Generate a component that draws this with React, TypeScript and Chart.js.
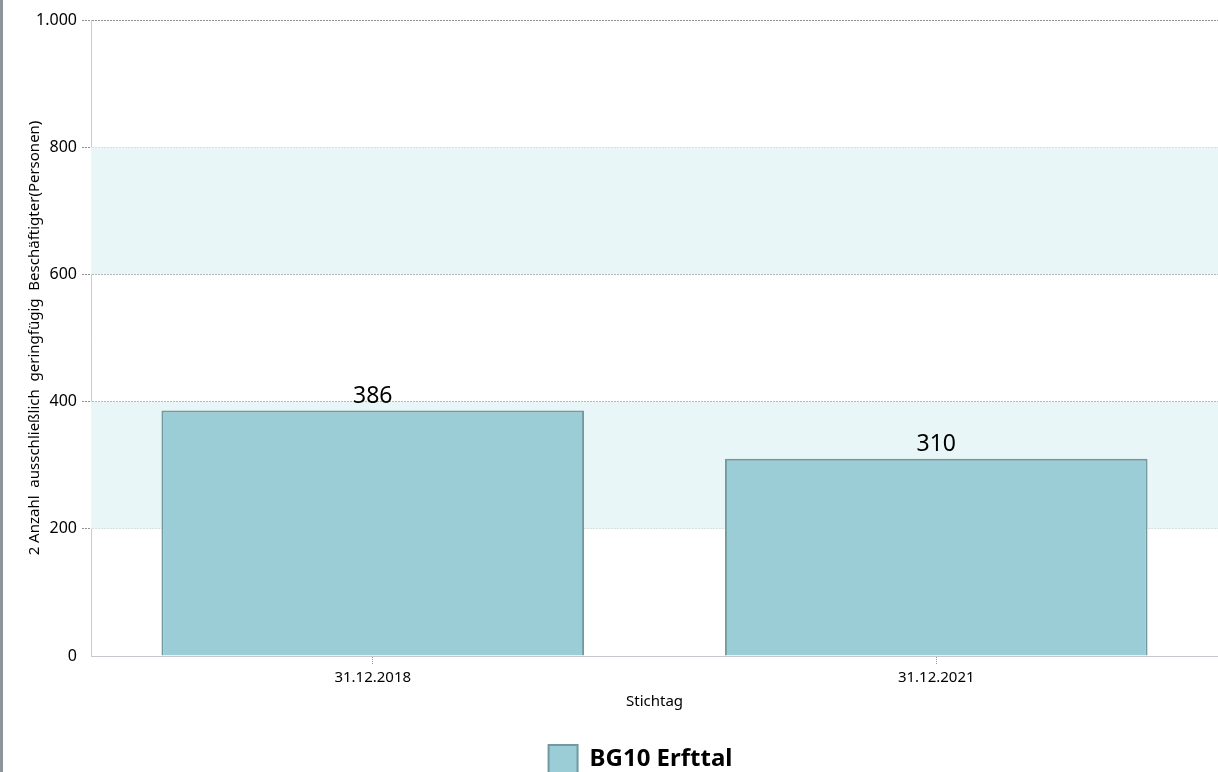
import React, { useEffect, useRef } from "react";
import { Chart, registerables } from "chart.js";

Chart.register(...registerables);

const categories = ["31.12.2018", "31.12.2021"];
const seriesLabel = "BG10 Erfttal";
const seriesValues = [386, 310];
const yTicks = [0, 200, 400, 600, 800, 1000];
const bands: [number, number][] = [
  [200, 400],
  [600, 800],
];
const xTitle = "Stichtag";
const yTitle = "2 Anzahl  ausschließlich  geringfügig  Beschäftigter(Personen)";

const FONT = "'Noto Sans', 'Open Sans', sans-serif";

function fmt(v: number): string {
  return String(v).replace(/\B(?=(\d{3})+(?!\d))/g, ".");
}

const bandPlugin = {
  id: "bands",
  beforeDatasetsDraw(chart: any) {
    const { ctx, chartArea, scales } = chart;
    const y = scales.y;
    ctx.save();
    ctx.fillStyle = "#e8f6f7";
    for (const [a, b] of bands) {
      const top = y.getPixelForValue(b);
      const bottom = y.getPixelForValue(a);
      ctx.fillRect(chartArea.left, top, chartArea.right - chartArea.left, bottom - top);
    }
    ctx.restore();
  },
};

const labelPlugin = {
  id: "valueLabels",
  afterDatasetsDraw(chart: any) {
    const { ctx } = chart;
    const meta = chart.getDatasetMeta(0);
    ctx.save();
    ctx.font = `23px ${FONT}`;
    ctx.fillStyle = "#000";
    ctx.textAlign = "center";
    ctx.textBaseline = "bottom";
    meta.data.forEach((el: any, i: number) => {
      ctx.fillText(String(seriesValues[i]), el.x, el.y - 3);
    });
    ctx.restore();
  },
};

const legendShift = {
  id: "legendShift",
  afterLayout(chart: any) {
    const lg = chart.legend;
    if (!lg) return;
    const ca = chart.chartArea;
    lg.left = ca.left - 14;
    lg.right = ca.right - 14;
  },
};

export default function App() {
  const ref = useRef<HTMLCanvasElement | null>(null);
  useEffect(() => {
    if (!ref.current) return;
    const chart = new Chart(ref.current, {
      type: "bar",
      data: {
        labels: categories,
        datasets: [
          {
            label: seriesLabel,
            data: seriesValues,
            backgroundColor: "#9bcdd6",
            borderColor: "#7299a0",
            borderWidth: 2,
            barPercentage: 0.75,
            categoryPercentage: 1,
          },
        ],
      },
      options: {
        animation: false,
        responsive: false,
        maintainAspectRatio: false,
        layout: { padding: { top: 20, right: 0, left: 0, bottom: 0 } },
        plugins: {
          tooltip: { enabled: false },
          legend: {
            position: "bottom",
            align: "center",
            labels: {
              boxWidth: 29,
              boxHeight: 29,
              padding: 30,
              color: "#000",
              font: { family: FONT, size: 24, weight: "bold" },
            },
          },
        },
        scales: {
          x: {
            afterFit(scale: any) {
              scale.height = 59;
            },
            grid: {
              offset: false,
              drawOnChartArea: false,
              drawTicks: true,
              tickLength: 8,
              tickColor: "#999",
              tickBorderDash: [1, 1],
            },
            border: { display: true, color: "#c4c8cc", width: 1 },
            ticks: {
              color: "#000",
              padding: 5,
              font: { family: FONT, size: 15 },
            },
            title: {
              display: true,
              text: xTitle,
              color: "#000",
              padding: { top: 0, bottom: 4 },
              font: { family: FONT, size: 15 },
            },
          },
          y: {
            min: 0,
            max: 1000,
            afterFit(scale: any) {
              scale.width = 91;
            },
            afterBuildTicks(scale: any) {
              scale.ticks = yTicks.map((v) => ({ value: v }));
            },
            grid: {
              color: (c: any) => (c.tick && c.tick.value === 0 ? "rgba(0,0,0,0)" : "#8f8f8f"),
              tickColor: (c: any) => (c.tick && c.tick.value === 0 ? "rgba(0,0,0,0)" : "#8f8f8f"),
              tickLength: 9,
              tickBorderDash: [2, 1],
              lineWidth: 1,
            },
            border: { display: true, color: "#c8ccd0", width: 1, dash: [2, 1] },
            ticks: {
              color: "#000",
              padding: 5,
              font: { family: FONT, size: 16 },
              callback: (v: any) => fmt(Number(v)),
            },
            title: {
              display: true,
              text: yTitle,
              color: "#000",
              padding: { top: 26, bottom: 0 },
              font: { family: FONT, size: 15 },
            },
          },
        },
      },
      plugins: [bandPlugin, labelPlugin, legendShift],
    } as any);
    return () => chart.destroy();
  }, []);

  return (
    <div style={{ position: "absolute", left: 0, top: 0, width: 1218, height: 772, overflow: "hidden", background: "#fff" }}>
      <canvas ref={ref} width={1218} height={784} style={{ display: "block" }} />
      <div style={{ position: "absolute", left: 0, top: 0, width: 3, height: 772, background: "#8d949a" }} />
    </div>
  );
}
